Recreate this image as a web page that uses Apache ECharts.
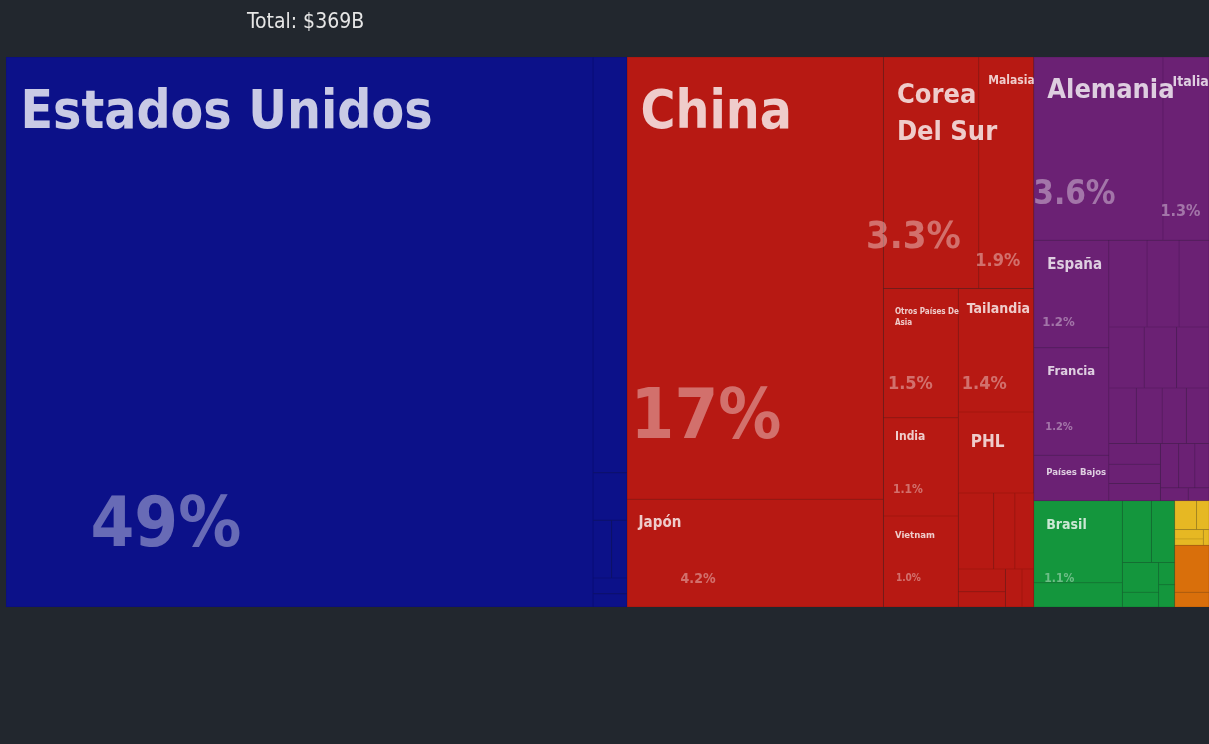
<!DOCTYPE html>
<html>
<head>
<meta charset="utf-8">
<title>Importaciones por origen</title>
<script src="https://cdn.jsdelivr.net/npm/echarts@6/dist/echarts.min.js"></script>
<style>
  html, body { margin: 0; padding: 0; background: #22272e; }
  #chart { width: 1209px; height: 744px; }
</style>
</head>
<body>
<div id="chart"></div>
<script>
// valores en miles de millones de USD
const naPaises = ['Estados Unidos', 'Canadá', 'Costa Rica', 'Guatemala', 'Puerto Rico', 'Honduras', 'El Salvador'];
const naValores = [180.0, 7.9, 0.9, 0.6, 0.5, 0.3, 0.25];

const asiaPaises = ['China', 'Japón', 'Corea Del Sur', 'Malasia', 'Otros Países De Asia', 'India', 'Vietnam', 'Tailandia', 'PHL'];
const asiaValores = [63.2, 15.4, 12.3, 7.1, 5.4, 4.1, 3.8, 5.2, 3.4];
const asiaMenores = ['Indonesia', 'Singapur', 'Israel', 'Hong Kong', 'Pakistán', 'Camboya', 'Bangladés'];
const asiaMenoresValores = [1.5, 0.9, 0.8, 0.6, 0.4, 0.35, 0.25];

const europaPaises = ['Alemania', 'Italia', 'España', 'Francia', 'Países Bajos'];
const europaValores = [13.2, 4.7, 4.5, 4.5, 1.9];
const europaMenores = ['Reino Unido', 'Suiza', 'Irlanda', 'Austria', 'Suecia', 'Bélgica', 'Rusia', 'Polonia', 'Rep. Checa',
    'Hungría', 'Eslovaquia', 'Dinamarca', 'Finlandia', 'Portugal', 'Noruega', 'Rumania', 'Luxemburgo', 'Eslovenia'];
const europaMenoresValores = [1.85, 1.55, 1.45, 1.2, 1.1, 1.1, 0.85, 0.8, 0.75, 0.7, 0.6, 0.55, 0.5, 0.45, 0.4, 0.35, 0.2, 0.15];

const sudPaises = ['Brasil', 'Argentina', 'Chile', 'Colombia', 'Perú', 'Ecuador', 'Uruguay', 'Venezuela'];
const sudValores = [4.05, 1.2, 1.0, 0.8, 0.6, 0.3, 0.2, 0.2];

const africaPaises = ['Sudáfrica', 'Marruecos', 'Argelia', 'Nigeria', 'Egipto'];
const africaValores = [0.35, 0.2, 0.15, 0.1, 0.05];

const oceaniaPaises = ['Australia', 'Nueva Zelanda'];
const oceaniaValores = [0.9, 0.28];

const FUENTE = "'DejaVu Sans Condensed', 'DejaVu Sans', sans-serif";

const colores = { na: '#0c1189', asia: '#b71913', europa: '#6b2174', sa: '#14963d', africa: '#e6b823', oceania: '#d96f0b' };
const bordes = { na: '#0a0e76', asia: '#a3160f', europa: '#5e1c67', sa: '#118535', africa: '#cfa31e', oceania: '#c26309' };

const regiones = [
    ['na', naPaises, naValores],
    ['asia', asiaPaises, asiaValores],
    ['asia', asiaMenores, asiaMenoresValores],
    ['europa', europaPaises, europaValores],
    ['europa', europaMenores, europaMenoresValores],
    ['sa', sudPaises, sudValores],
    ['africa', africaPaises, africaValores],
    ['oceania', oceaniaPaises, oceaniaValores],
];
const valorDe = {};
const regionDe = {};
regiones.forEach(([reg, nombres, valores]) => {
    nombres.forEach((n, i) => {
        valorDe[n] = valores[i];
        regionDe[n] = reg;
    });
});
const total = Object.values(valorDe).reduce((a, b) => a + b, 0);

// agrupacion de bloques (solo para el acomodo del treemap)
const disposicion = [
    [naPaises, ['China', 'Japón']],
    [
        [['Corea Del Sur', 'Malasia'], [['Otros Países De Asia', 'India', 'Vietnam'], ['Tailandia', 'PHL', asiaMenores]]],
        [[['Alemania', 'Italia'], [['España', 'Francia', 'Países Bajos'], europaMenores]], [sudPaises, [africaPaises, oceaniaPaises]]],
    ],
];

// [tam. nombre, x nombre, y nombre, tam. %, x %, y %] respecto a la esquina de la celda
const etiquetas = {
    'Estados Unidos': [53, 14, 36, 70, 84, 444],
    China: [53, 13, 36, 70, 3, 336],
    'Japón': [15, 11, 18, 14, 53, 74],
    'Corea Del Sur': [27, 13, 28, 38, -18, 166],
    Malasia: [12, 9, 19, 18, -4, 197],
    Alemania: [27, 13, 23, 33, -1, 125],
    Italia: [14, 9, 19, 16, -3, 148],
    'España': [15, 13, 19, 13, 8, 77],
    Francia: [13, 13, 18, 11, 11, 75],
    'Países Bajos': [9.5, 12, 13, 0, 0, 0],
    'Otros Países De Asia': [8, 11, 20, 18, 4, 88],
    Tailandia: [14, 8, 15, 18, 3, 88],
    India: [12, 11, 14, 12, 9, 67],
    PHL: [17, 12, 23, 0, 0, 0],
    Vietnam: [9.5, 11, 15, 10, 12, 58],
    Brasil: [14, 12, 19, 12, 10, 73],
};
const primeraLinea = { 'Corea Del Sur': 1, 'Otros Países De Asia': 3 }; // palabras en la 1a linea

function etiqueta(nombre) {
    const e = etiquetas[nombre];
    if (!e) return { show: false };
    const [sn, nx, ny, sp, px, py] = e;
    let texto = nombre;
    if (primeraLinea[nombre]) {
        const p = nombre.split(' ');
        texto = p.slice(0, primeraLinea[nombre]).join(' ') + '\n' + p.slice(primeraLinea[nombre]).join(' ');
    }
    const lineas = texto.split('\n').length;
    const ln = Math.round(sn * 1.38);
    const capN = ln / 2 - 0.383 * sn;
    const ox = sp ? Math.min(nx, px) : nx;
    const oy = ny - capN;
    const rich = {
        n: {
            fontSize: sn, lineHeight: ln, fontWeight: 'bold', fontFamily: FUENTE,
            color: 'rgba(255,255,255,0.78)', padding: [0, 0, 0, nx - ox],
        },
    };
    let fmt = `{n|${texto}}`;
    if (sp) {
        const lp = Math.round(sp * 1.2);
        const capP = lp / 2 - 0.383 * sp;
        const gap = Math.max(0, py - capP - (oy + lineas * ln));
        const pct = (valorDe[nombre] / total * 100).toPrecision(2) + '%';
        rich.g = { fontSize: 1, lineHeight: gap };
        rich.p = {
            fontSize: sp, lineHeight: lp, fontWeight: 'bold', fontFamily: FUENTE,
            color: 'rgba(255,255,255,0.38)', padding: [0, 0, 0, px - ox],
        };
        fmt += `\n{g| }\n{p|${pct}}`;
    }
    return {
        show: true, position: 'insideTopLeft', distance: 0, padding: 0,
        offset: [ox, oy], overflow: 'none', formatter: () => fmt, rich,
    };
}

function construir(item) {
    if (typeof item === 'string') {
        const reg = regionDe[item];
        return {
            name: item,
            value: valorDe[item],
            itemStyle: { color: colores[reg], borderColor: bordes[reg], borderWidth: 0.5, gapWidth: 0 },
            label: etiqueta(item),
        };
    }
    return {
        name: '',
        children: item.map(construir),
        itemStyle: { borderWidth: 0, gapWidth: 0, borderColor: '#22272e' },
    };
}

const chart = echarts.init(document.getElementById('chart'));
chart.setOption({
    backgroundColor: '#22272e',
    animation: false,
    title: {
        text: `Total: $${Math.round(total)}B`,
        left: 247,
        top: 12,
        padding: 0,
        textStyle: { color: '#e6e6e6', fontSize: 21, fontWeight: 'normal', fontFamily: FUENTE },
    },
    series: [{
        type: 'treemap',
        left: 6,
        top: 57,
        width: 1203,
        height: 550,
        sort: false,
        squareRatio: 2.25,
        roam: false,
        nodeClick: false,
        breadcrumb: { show: false },
        label: { show: false },
        upperLabel: { show: false },
        itemStyle: { borderWidth: 0, gapWidth: 0, borderColor: '#22272e' },
        data: disposicion.map(construir),
    }],
});
</script>
</body>
</html>
